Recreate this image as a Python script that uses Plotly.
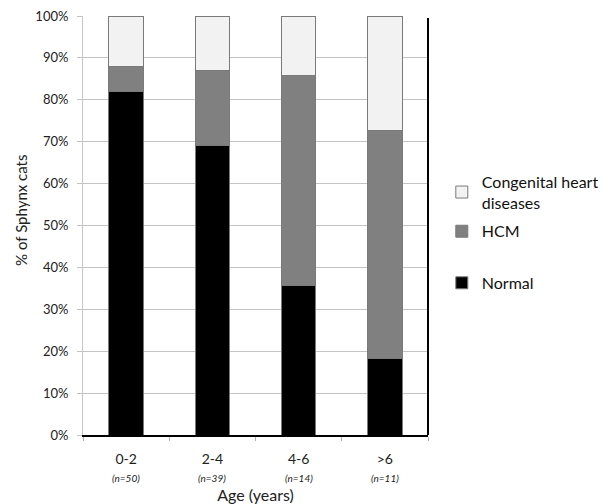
import plotly.graph_objects as go

categories = ["0-2", "2-4", "4-6", ">6"]
n_labels = ["(n=50)", "(n=39)", "(n=14)", "(n=11)"]
normal = [82.0, 69.2, 35.7, 18.2]
hcm = [6.0, 17.9, 50.0, 54.5]
congenital = [12.0, 12.9, 14.3, 27.3]

FONT = "Lato, 'Open Sans', sans-serif"
outline = dict(color="#7a7a7a", width=1)

fig = go.Figure()
fig.add_trace(go.Bar(x=categories, y=normal, name="Normal", marker=dict(color="#000000", line=outline),
                     width=0.4, legend="legend2"))
fig.add_trace(go.Bar(x=categories, y=hcm, name="HCM", marker=dict(color="#808080", line=outline),
                     width=0.4, legendrank=2, legendgroup="hcm"))
fig.add_trace(go.Bar(x=categories, y=congenital, name="Congenital heart<br>diseases",
                     marker=dict(color="#f2f2f2", line=outline), width=0.4, legendrank=1,
                     legendgroup="chd"))

legend_common = dict(xanchor="left", font=dict(size=16, color="#111111"), itemwidth=30,
                     bgcolor="rgba(0,0,0,0)", traceorder="grouped")

fig.update_layout(
    width=603, height=504,
    barmode="stack",
    plot_bgcolor="white", paper_bgcolor="white",
    margin=dict(l=83, r=175, t=16, b=69, autoexpand=False),
    font=dict(family=FONT, color="#222222", size=13),
    legend=dict(x=1.04, y=0.645, yanchor="top", tracegroupgap=5, **legend_common),
    legend2=dict(x=1.04, y=0.363, yanchor="middle", **legend_common),
    xaxis=dict(
        tickmode="array", tickvals=categories, ticktext=categories,
        showline=True, linecolor="#000000", linewidth=2,
        ticks="outside", tickson="boundaries", ticklen=4, tickcolor="#b0b0b0",
        ticklabelstandoff=10,
        tickfont=dict(size=14),
        title=dict(text="Age (years)", font=dict(size=16), standoff=33),
        range=[-0.5, 3.5],
    ),
    yaxis=dict(
        range=[0, 100], tickvals=list(range(0, 101, 10)),
        ticktext=[f"{v}%" for v in range(0, 101, 10)],
        showgrid=True, gridcolor="#c4c4c4", gridwidth=1,
        showline=True, linecolor="#c4c4c4", linewidth=1,
        ticks="outside", ticklen=5, tickcolor="#c4c4c4",
        ticklabelstandoff=6,
        tickfont=dict(size=13), zeroline=False,
    ),
)

fig.add_annotation(x=-0.18, y=0.537, xref="paper", yref="paper", text="% of Sphynx cats",
                   textangle=-90, showarrow=False, font=dict(size=15, color="#222222"),
                   xanchor="center", yanchor="middle")

for cat, lab in zip(categories, n_labels):
    fig.add_annotation(x=cat, y=-0.1026, xref="x", yref="paper", text=f"<i>{lab}</i>",
                       showarrow=False, yanchor="middle", font=dict(size=10, color="#222222"))

fig.add_shape(type="line", xref="paper", yref="paper", x0=1, x1=1, y0=0, y1=0.995,
              line=dict(color="#000000", width=2))

fig.write_html("out.html", config={"displayModeBar": False},
               post_script="document.body.style.margin='0';")
